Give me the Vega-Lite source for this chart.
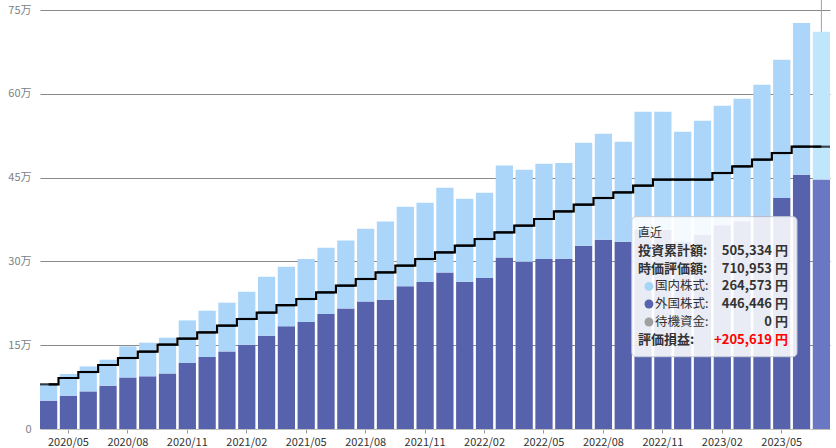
{
  "$schema": "https://vega.github.io/schema/vega-lite/v6.json",
  "width": 796,
  "height": 429,
  "autosize": {"type": "none"},
  "padding": {"left": 40, "top": 0, "right": 0, "bottom": 19},
  "background": "white",
  "config": {"view": {"stroke": null}, "font": "Noto Sans CJK JP"},
  "data": {
    "values": [
      {"month": "2020/04", "外国株式": 50700, "国内株式": 30300, "投資累計額": 80000},
      {"month": "2020/05", "外国株式": 59600, "国内株式": 38900, "投資累計額": 91300},
      {"month": "2020/06", "外国株式": 67300, "国内株式": 44700, "投資累計額": 102000},
      {"month": "2020/07", "外国株式": 77500, "国内株式": 46500, "投資累計額": 114600},
      {"month": "2020/08", "外国株式": 92400, "国内株式": 55500, "投資累計額": 127100},
      {"month": "2020/09", "外国株式": 94200, "国内株式": 60300, "投資累計額": 138400},
      {"month": "2020/10", "外国株式": 99500, "国内株式": 63900, "投資累計額": 150900},
      {"month": "2020/11", "外国株式": 118100, "国内株式": 76300, "投資累計額": 161600},
      {"month": "2020/12", "外国株式": 128900, "国内株式": 82900, "投資累計額": 172900},
      {"month": "2021/01", "外国株式": 138900, "国内株式": 87200, "投資累計額": 184900},
      {"month": "2021/02", "外国株式": 150900, "国内株式": 94900, "投資累計額": 196900},
      {"month": "2021/03", "外国株式": 167000, "国内株式": 105600, "投資累計額": 208200},
      {"month": "2021/04", "外国株式": 183700, "国内株式": 106800, "投資累計額": 221600},
      {"month": "2021/05", "外国株式": 191500, "国内株式": 113000, "投資累計額": 232700},
      {"month": "2021/06", "外国株式": 205900, "国内株式": 118600, "投資累計額": 244500},
      {"month": "2021/07", "外国株式": 215900, "国内株式": 121700, "投資累計額": 256500},
      {"month": "2021/08", "外国株式": 228400, "国内株式": 130100, "投資累計額": 268500},
      {"month": "2021/09", "外国株式": 231500, "国内株式": 140100, "投資累計額": 280300},
      {"month": "2021/10", "外国株式": 255300, "国内株式": 142600, "投資累計額": 292300},
      {"month": "2021/11", "外国株式": 263100, "国内株式": 142000, "投資累計額": 304300},
      {"month": "2021/12", "外国株式": 280300, "国内株式": 151600, "投資累計額": 316100},
      {"month": "2022/01", "外国株式": 263700, "国内株式": 148500, "投資累計額": 328100},
      {"month": "2022/02", "外国株式": 270300, "国内株式": 152700, "投資累計額": 340100},
      {"month": "2022/03", "外国株式": 307200, "国内株式": 164600, "投資累計額": 351900},
      {"month": "2022/04", "外国株式": 299500, "国内株式": 164700, "投資累計額": 363900},
      {"month": "2022/05", "外国株式": 304300, "国内株式": 170600, "投資累計額": 375900},
      {"month": "2022/06", "外国株式": 304800, "国内株式": 171300, "投資累計額": 389500},
      {"month": "2022/07", "外国株式": 328100, "国内株式": 184400, "投資累計額": 401500},
      {"month": "2022/08", "外国株式": 338900, "国内株式": 189700, "投資累計額": 413500},
      {"month": "2022/09", "外国株式": 335300, "国内株式": 179000, "投資累計額": 423500},
      {"month": "2022/10", "外国株式": 357500, "国内株式": 210500, "投資累計額": 435500},
      {"month": "2022/11", "外国株式": 356800, "国内株式": 211200, "投資累計額": 446300},
      {"month": "2022/12", "外国株式": 335300, "国内株式": 196900, "投資累計額": 446300},
      {"month": "2023/01", "外国株式": 347800, "国内株式": 204100, "投資累計額": 446300},
      {"month": "2023/02", "外国株式": 364600, "国内株式": 214100, "投資累計額": 458200},
      {"month": "2023/03", "外国株式": 371800, "国内株式": 219400, "投資累計額": 470100},
      {"month": "2023/04", "外国株式": 381800, "国内株式": 234500, "投資累計額": 482100},
      {"month": "2023/05", "外国株式": 413500, "国内株式": 247600, "投資累計額": 494000},
      {"month": "2023/06", "外国株式": 455200, "国内株式": 271500, "投資累計額": 505334},
      {"month": "2023/07", "外国株式": 446446, "国内株式": 264573, "投資累計額": 505334}
    ]
  },
  "encoding": {
    "x": {
      "field": "month",
      "type": "ordinal",
      "scale": {"range": [0, 790], "paddingInner": 0.13, "paddingOuter": 0},
      "axis": {
        "values": ["2020/05", "2020/08", "2020/11", "2021/02", "2021/05", "2021/08", "2021/11", "2022/02", "2022/05", "2022/08", "2022/11", "2023/02", "2023/05"],
        "labelAngle": 0,
        "title": null,
        "tickSize": 4,
        "tickColor": "#999999",
        "domainColor": "#c0c0c0",
        "labelPadding": 3,
        "labelFontSize": 11,
        "labelColor": "#333333",
        "labelFont": "Noto Sans CJK JP",
        "grid": false
      }
    }
  },
  "layer": [
    {
      "data": {"values": [{}]},
      "mark": {"type": "rule", "color": "#a0a0a0", "strokeWidth": 1},
      "encoding": {"x": {"datum": "2023/07", "type": "ordinal"}}
    },
    {
      "transform": [{"fold": ["外国株式", "国内株式"], "as": ["series", "amount"]}],
      "mark": {"type": "bar"},
      "encoding": {
        "y": {
          "field": "amount",
          "type": "quantitative",
          "stack": "zero",
          "title": null,
          "scale": {"domain": [0, 767910], "nice": false},
          "axis": {
            "values": [0, 150000, 300000, 450000, 600000, 750000],
            "labelExpr": "datum.value === 0 ? '0' : (datum.value / 10000) + '万'",
            "domain": false,
            "ticks": false,
            "labelPadding": 9,
            "labelFontSize": 11,
            "labelColor": "#7a7f88",
            "labelFont": "Noto Sans CJK JP",
            "gridColor": {"condition": {"test": "datum.value === 0", "value": "transparent"}, "value": "#8a8a8a"},
            "title": null
          }
        },
        "color": {
          "condition": [
            {"test": "datum.month === '2023/07' && datum.series === '国内株式'", "value": "#c0e6fc"},
            {"test": "datum.month === '2023/07' && datum.series === '外国株式'", "value": "#6a77c2"}
          ],
          "field": "series",
          "type": "nominal",
          "scale": {"domain": ["国内株式", "外国株式"], "range": ["#abd5f9", "#5762ad"]},
          "legend": null
        },
        "order": {"field": "series", "sort": "descending"}
      }
    },
    {
      "mark": {"type": "line", "interpolate": "step", "color": "#000000", "strokeWidth": 2.2},
      "encoding": {"y": {"field": "投資累計額", "type": "quantitative", "title": null}}
    },
    {
      "mark": {"type": "tick", "color": "#000000", "thickness": 2.2, "size": 17.3},
      "encoding": {"y": {"field": "投資累計額", "type": "quantitative", "title": null}}
    },
    {
      "data": {"values": [{}]},
      "layer": [
        {
          "mark": {"type": "rect", "fill": "#ffffff", "fillOpacity": 0.88, "stroke": "#c5ccd6", "strokeWidth": 1, "cornerRadius": 4},
          "encoding": {
            "x": {"datum": "2022/09", "type": "ordinal", "bandPosition": 1},
            "x2": {"datum": "2023/06", "bandPosition": 0.234},
            "y": {"datum": 380020, "type": "quantitative", "title": null},
            "y2": {"datum": 129420}
          }
        },
        {
          "mark": {"type": "text", "text": "直近", "align": "left", "baseline": "middle", "fontSize": 12, "color": "#333333"},
          "encoding": {"x": {"datum": "2022/10", "type": "ordinal", "bandPosition": 0.206}, "y": {"datum": 350840, "type": "quantitative", "title": null}}
        },
        {
          "mark": {"type": "text", "text": "投資累計額:", "align": "left", "baseline": "middle", "fontSize": 13, "fontWeight": "bold", "color": "#333333"},
          "encoding": {"x": {"datum": "2022/10", "type": "ordinal", "bandPosition": 0.206}, "y": {"datum": 319160, "type": "quantitative", "title": null}}
        },
        {
          "mark": {"type": "text", "text": "時価評価額:", "align": "left", "baseline": "middle", "fontSize": 13, "fontWeight": "bold", "color": "#333333"},
          "encoding": {"x": {"datum": "2022/10", "type": "ordinal", "bandPosition": 0.206}, "y": {"datum": 286940, "type": "quantitative", "title": null}}
        },
        {
          "mark": {"type": "text", "text": "評価損益:", "align": "left", "baseline": "middle", "fontSize": 13, "fontWeight": "bold", "color": "#333333"},
          "encoding": {"x": {"datum": "2022/10", "type": "ordinal", "bandPosition": 0.206}, "y": {"datum": 159850, "type": "quantitative", "title": null}}
        },
        {
          "mark": {"type": "point", "filled": true, "size": 80, "opacity": 1, "color": "#a6d6f7"},
          "encoding": {"x": {"datum": "2022/10", "type": "ordinal", "bandPosition": 0.844}, "y": {"datum": 255250, "type": "quantitative", "title": null}}
        },
        {
          "mark": {"type": "point", "filled": true, "size": 80, "opacity": 1, "color": "#5763ad"},
          "encoding": {"x": {"datum": "2022/10", "type": "ordinal", "bandPosition": 0.844}, "y": {"datum": 223750, "type": "quantitative", "title": null}}
        },
        {
          "mark": {"type": "point", "filled": true, "size": 80, "opacity": 1, "color": "#a0a0a0"},
          "encoding": {"x": {"datum": "2022/10", "type": "ordinal", "bandPosition": 0.844}, "y": {"datum": 191530, "type": "quantitative", "title": null}}
        },
        {
          "mark": {"type": "text", "text": "国内株式:", "align": "left", "baseline": "middle", "fontSize": 12.5, "color": "#333333"},
          "encoding": {"x": {"datum": "2022/11", "type": "ordinal", "bandPosition": 0.04}, "y": {"datum": 255250, "type": "quantitative", "title": null}}
        },
        {
          "mark": {"type": "text", "text": "外国株式:", "align": "left", "baseline": "middle", "fontSize": 12.5, "color": "#333333"},
          "encoding": {"x": {"datum": "2022/11", "type": "ordinal", "bandPosition": 0.04}, "y": {"datum": 223750, "type": "quantitative", "title": null}}
        },
        {
          "mark": {"type": "text", "text": "待機資金:", "align": "left", "baseline": "middle", "fontSize": 12.5, "color": "#333333"},
          "encoding": {"x": {"datum": "2022/11", "type": "ordinal", "bandPosition": 0.04}, "y": {"datum": 191530, "type": "quantitative", "title": null}}
        },
        {
          "mark": {"type": "text", "text": "505,334  円", "align": "right", "baseline": "middle", "fontSize": 13, "fontWeight": "bold", "color": "#333333"},
          "encoding": {"x": {"datum": "2023/05", "type": "ordinal", "bandPosition": 0.86}, "y": {"datum": 319160, "type": "quantitative", "title": null}}
        },
        {
          "mark": {"type": "text", "text": "710,953  円", "align": "right", "baseline": "middle", "fontSize": 13, "fontWeight": "bold", "color": "#333333"},
          "encoding": {"x": {"datum": "2023/05", "type": "ordinal", "bandPosition": 0.86}, "y": {"datum": 286940, "type": "quantitative", "title": null}}
        },
        {
          "mark": {"type": "text", "text": "264,573  円", "align": "right", "baseline": "middle", "fontSize": 13, "fontWeight": "bold", "color": "#333333"},
          "encoding": {"x": {"datum": "2023/05", "type": "ordinal", "bandPosition": 0.86}, "y": {"datum": 255250, "type": "quantitative", "title": null}}
        },
        {
          "mark": {"type": "text", "text": "446,446  円", "align": "right", "baseline": "middle", "fontSize": 13, "fontWeight": "bold", "color": "#333333"},
          "encoding": {"x": {"datum": "2023/05", "type": "ordinal", "bandPosition": 0.86}, "y": {"datum": 223750, "type": "quantitative", "title": null}}
        },
        {
          "mark": {"type": "text", "text": "0  円", "align": "right", "baseline": "middle", "fontSize": 13, "fontWeight": "bold", "color": "#333333"},
          "encoding": {"x": {"datum": "2023/05", "type": "ordinal", "bandPosition": 0.86}, "y": {"datum": 191530, "type": "quantitative", "title": null}}
        },
        {
          "mark": {"type": "text", "text": "+205,619  円", "align": "right", "baseline": "middle", "fontSize": 13, "fontWeight": "bold", "color": "#ff0000"},
          "encoding": {"x": {"datum": "2023/05", "type": "ordinal", "bandPosition": 0.86}, "y": {"datum": 159850, "type": "quantitative", "title": null}}
        }
      ]
    }
  ]
}
